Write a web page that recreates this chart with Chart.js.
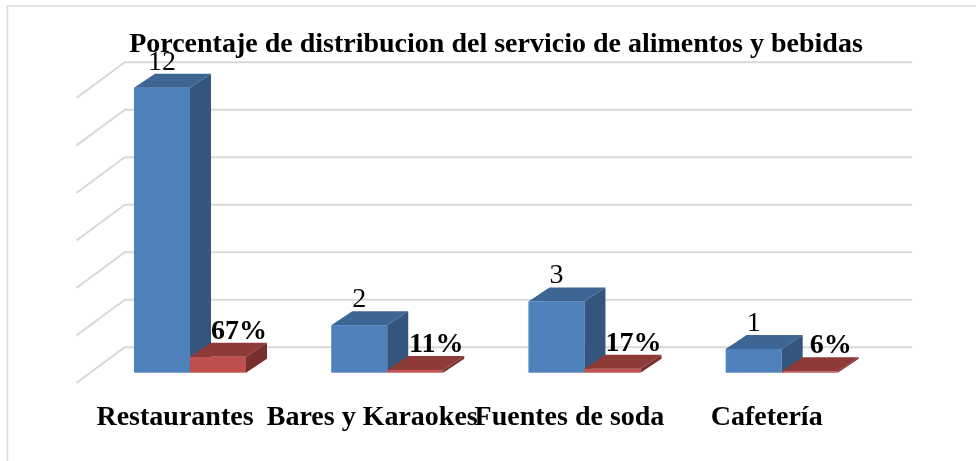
<!DOCTYPE html>
<html><head><meta charset="utf-8">
<script src="https://cdn.jsdelivr.net/npm/chart.js@4/dist/chart.umd.min.js"></script>
<style>html,body{margin:0;padding:0;background:#fff;}#wrap{position:relative;width:976px;height:461px;}</style>
</head><body><div id="wrap"><canvas id="c" width="976" height="461"></canvas></div>
<script>
const categories = ['Restaurantes', 'Bares y Karaokes', 'Fuentes de soda', 'Cafetería'];
const counts = [12, 2, 3, 1];
const shares = [0.67, 0.11, 0.17, 0.06];
const shareLabels = ['67%', '11%', '17%', '6%'];
const yTicks = [0, 2, 4, 6, 8, 10, 12];
const titleText = 'Porcentaje de distribucion del servicio de alimentos y bebidas';

const FONT = '"Liberation Serif", "Times New Roman", serif';
const FS = 28;
const DX = 21, DY = -14;          // bar depth
const WX = 33.4, WY = -25.4;      // back wall offset from front plane
const SX = -48.3, SY = 35.6;      // side wall floor diagonal
const COLORS = [
  {front: '#4f81bd', top: '#3d6695', side: '#34557e'},
  {front: '#c0504d', top: '#8e3a38', side: '#77302e'}
];

const threeD = {
  id: 'threeD',
  beforeDraw(chart) {
    const ctx = chart.ctx;
    ctx.save();
    ctx.strokeStyle = '#d9d9d9';
    ctx.lineWidth = 1.5;
    ctx.beginPath();
    ctx.moveTo(7.5, 461); ctx.lineTo(7.5, 6); ctx.lineTo(976, 6);
    ctx.stroke();
    ctx.restore();
  },
  beforeDatasetsDraw(chart) {
    const ctx = chart.ctx, ys = chart.scales.y, ca = chart.chartArea;
    ctx.save();
    ctx.strokeStyle = '#d9d9d9';
    ctx.lineWidth = 2;
    const xl = ca.left + WX, xr = ca.right + WX - 1.4;
    yTicks.forEach(v => {
      const yb = ys.getPixelForValue(v) + WY;
      ctx.beginPath();
      ctx.moveTo(xl + SX, yb + SY);
      ctx.lineTo(xl, yb);
      ctx.lineTo(xr, yb);
      ctx.stroke();
    });
    ctx.restore();
  },
  beforeDatasetDraw() { return false; },
  afterDatasetsDraw(chart) {
    const ctx = chart.ctx, xs = chart.scales.x;
    ctx.save();
    const metas = [chart.getDatasetMeta(0), chart.getDatasetMeta(1)];
    for (let i = 0; i < categories.length; i++) {
      for (let d = 0; d < 2; d++) {
        const el = metas[d].data[i];
        const p = el.getProps(['x', 'y', 'base', 'width'], true);
        const x0 = p.x - p.width / 2, x1 = p.x + p.width / 2, y = p.y, b = p.base;
        const c = COLORS[d];
        ctx.fillStyle = c.front;
        ctx.fillRect(x0, y, x1 - x0, b - y);
        ctx.fillStyle = c.top;
        ctx.beginPath();
        ctx.moveTo(x0, y); ctx.lineTo(x0 + DX, y + DY); ctx.lineTo(x1 + DX, y + DY); ctx.lineTo(x1, y);
        ctx.closePath(); ctx.fill();
        ctx.fillStyle = c.side;
        ctx.beginPath();
        ctx.moveTo(x1, y); ctx.lineTo(x1 + DX, y + DY); ctx.lineTo(x1 + DX, b + DY); ctx.lineTo(x1, b);
        ctx.closePath(); ctx.fill();
      }
    }
    // data labels
    ctx.fillStyle = '#000';
    ctx.textAlign = 'center';
    ctx.textBaseline = 'alphabetic';
    for (let i = 0; i < categories.length; i++) {
      const e0 = metas[0].data[i].getProps(['x', 'y'], true);
      ctx.font = FS + 'px ' + FONT;
      ctx.fillText(String(counts[i]), e0.x, e0.y - 18);
      const e1 = metas[1].data[i].getProps(['x', 'y'], true);
      ctx.font = 'bold ' + FS + 'px ' + FONT;
      ctx.fillText(shareLabels[i], e1.x + 21, e1.y - 18);
    }
    // category labels
    ctx.font = 'bold ' + FS + 'px ' + FONT;
    categories.forEach((c, i) => {
      ctx.fillText(c, xs.getPixelForValue(i) - 15, 425);
    });
    ctx.restore();
  }
};

new Chart(document.getElementById('c'), {
  type: 'bar',
  data: {
    labels: categories,
    datasets: [
      {label: 'Cantidad', data: counts, backgroundColor: COLORS[0].front, categoryPercentage: 0.568, barPercentage: 1},
      {label: 'Porcentaje', data: shares, backgroundColor: COLORS[1].front, categoryPercentage: 0.568, barPercentage: 1}
    ]
  },
  options: {
    responsive: false,
    animation: false,
    devicePixelRatio: 1,
    layout: {padding: {left: 91.4, right: 75.4, top: 0, bottom: 88.3}},
    plugins: {
      legend: {display: false},
      tooltip: {enabled: false},
      title: {
        display: true,
        text: titleText,
        color: '#000',
        font: {family: FONT, size: FS, weight: 'bold', lineHeight: 1.2},
        padding: {top: 28.2, bottom: 25.9}
      }
    },
    scales: {
      x: {display: false},
      y: {
        position: 'right',
        min: 0, max: 12,
        ticks: {display: false, stepSize: 2},
        grid: {display: false},
        border: {display: false},
        afterFit(scale) { scale.width = 20.3; }
      }
    }
  },
  plugins: [threeD]
});
</script></body></html>
